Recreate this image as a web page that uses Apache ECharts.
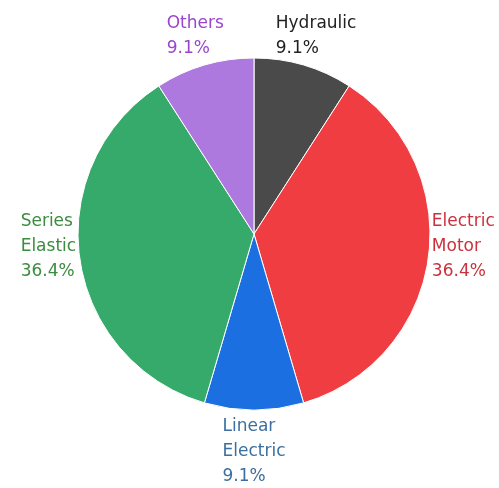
<!DOCTYPE html>
<html>
<head>
<meta charset="utf-8">
<script src="https://cdn.jsdelivr.net/npm/echarts@6/dist/echarts.min.js"></script>
<style>
html,body{margin:0;padding:0;background:#fff;}
#chart{width:499px;height:488px;}
</style>
</head>
<body>
<div id="chart"></div>
<script>
// Data
const categories = ['Hydraulic', 'Electric Motor', 'Linear Electric', 'Series Elastic', 'Others'];
const values = [1, 4, 1, 4, 1];

// Styles
const sliceColors = ['#4a4a4a', '#ef3d42', '#1b6fe0', '#36aa6a', '#ae79df'];
const textColors = ['#222222', '#c9323d', '#3c6f9f', '#3b8c3e', '#9a46cc'];

const CX = 254, CY = 234, R = 176, GAP = 4;
const total = values.reduce((a, b) => a + b, 0);
function midAngle(i) {
  let before = 0;
  for (let k = 0; k < i; k++) before += values[k];
  return (before + values[i] / 2) / total * 2 * Math.PI;
}

const chart = echarts.init(document.getElementById('chart'), null, {renderer: 'canvas'});
chart.setOption({
  backgroundColor: '#ffffff',
  animation: false,
  series: [{
    type: 'pie',
    center: [CX, CY],
    radius: R,
    startAngle: 90,
    clockwise: true,
    avoidLabelOverlap: false,
    itemStyle: {borderColor: '#ffffff', borderWidth: 1},
    label: {
      show: true,
      position: 'outside',
      overflow: 'none',
      fontFamily: 'DejaVu Sans',
      fontSize: 17,
      lineHeight: 25,
      formatter: function (p) {
        return p.name.split(' ').join('\n') + '\n' + (p.value / total * 100).toFixed(1) + '%';
      }
    },
    labelLine: {show: false},
    labelLayout: function (p) {
      const t = midAngle(p.dataIndex);
      const s = Math.sin(t), c = Math.cos(t);
      const w = p.labelRect.width, h = p.labelRect.height;
      const px = CX + (R + GAP) * s, py = CY - (R + GAP) * c;
      const fx = (1 - s) / 2;
      const fy = (1 + c) / 2 + 0.25 * s * s;
      return {x: px - w * fx, y: py - h * fy, align: 'left', verticalAlign: 'top', hideOverlap: false};
    },
    emphasis: {disabled: true},
    data: categories.map((name, i) => ({
      name: name,
      value: values[i],
      itemStyle: {color: sliceColors[i]},
      label: {color: textColors[i]}
    }))
  }]
});
</script>
</body>
</html>
